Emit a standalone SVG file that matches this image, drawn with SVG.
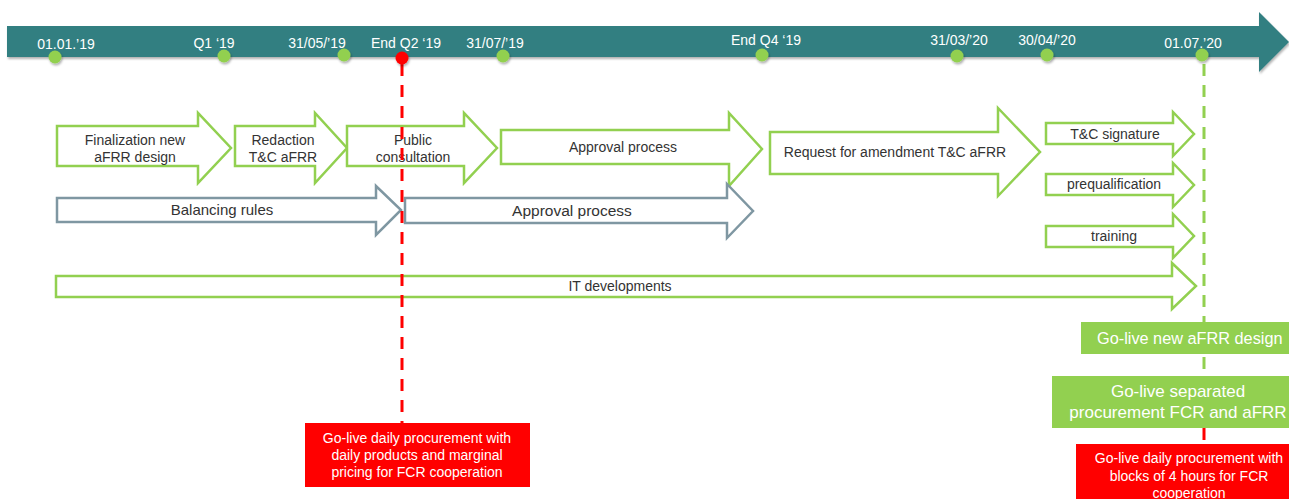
<svg xmlns="http://www.w3.org/2000/svg" width="1289" height="499" viewBox="0 0 1289 499">
<defs>
<style>
.lbl{font-family:"Liberation Sans",Arial,sans-serif;font-size:14px;fill:#ffffff;text-anchor:middle}
.at{font-family:"Liberation Sans",Arial,sans-serif;font-size:14px;fill:#333333;text-anchor:middle}
.gt{font-family:"Liberation Sans",Arial,sans-serif;font-size:15.5px;fill:#333333;text-anchor:middle}
.wt{font-family:"Liberation Sans",Arial,sans-serif;fill:#ffffff;text-anchor:middle}
.garr{fill:#ffffff;stroke:#92D050;stroke-width:2.5;stroke-linejoin:miter}
.sarr{fill:#ffffff;stroke:#7F97A2;stroke-width:2.5;stroke-linejoin:miter}
.dot{fill:#92D050}
.rdash{stroke:#FF0000;stroke-width:3;stroke-dasharray:12 9;fill:none}
.gdash{stroke:#92D050;stroke-width:3;stroke-dasharray:12 9;fill:none}
</style>
<filter id="sh" x="-5%" y="-20%" width="110%" height="150%">
<feDropShadow dx="1" dy="2" stdDeviation="1.2" flood-color="#000" flood-opacity="0.3"/>
</filter>
</defs>
<g id="timeline">
<path d="M7 26 H1259 V12 L1289 42 L1259 72 V57 H7 Z" fill="#317F81" filter="url(#sh)"/>
<text class="lbl" x="66" y="49">01.01.’19</text>
<text class="lbl" x="214" y="48">Q1 ‘19</text>
<text class="lbl" x="317" y="48">31/05/’19</text>
<text class="lbl" x="406" y="48">End Q2 ‘19</text>
<text class="lbl" x="495" y="48">31/07/’19</text>
<text class="lbl" x="766" y="45">End Q4 ‘19</text>
<text class="lbl" x="959" y="45">31/03/’20</text>
<text class="lbl" x="1047" y="45">30/04/’20</text>
<text class="lbl" x="1193" y="48">01.07.’20</text>
</g>
<g id="finalization">
<path class="garr" d="M57 126 H198 V113 L231 148 L198 183 V166 H57 Z"/>
<text class="at" x="135" y="145">Finalization  new</text>
<text class="at" x="135" y="162">aFRR design</text>
</g>
<g id="redaction">
<path class="garr" d="M235 126 H315 V113 L347 148 L315 183 V166 H235 Z"/>
<text class="at" x="283" y="145">Redaction</text>
<text class="at" x="283" y="162">T&amp;C aFRR</text>
</g>
<g id="public-consultation">
<path class="garr" d="M347 126 H464 V113 L497 148 L464 183 V166 H347 Z"/>
<text class="at" x="413" y="145">Public</text>
<text class="at" x="413" y="162">consultation</text>
</g>
<g id="approval-1">
<path class="garr" d="M501 130 H729 V113 L762 149 L729 186 V164 H501 Z"/>
<text class="at" x="623" y="152">Approval  process</text>
</g>
<g id="request-amendment">
<path class="garr" d="M770 132 H998 V108 L1040 152 L998 196 V174 H770 Z"/>
<text class="at" x="895" y="157">Request for amendment  T&amp;C aFRR</text>
</g>
<g id="tc-signature">
<path class="garr" d="M1046 123 H1173 V112 L1194 134 L1173 156 V144 H1046 Z"/>
<text class="at" x="1115" y="139">T&amp;C signature</text>
</g>
<g id="prequalification">
<path class="garr" d="M1046 174 H1173 V163 L1194 185 L1173 207 V195 H1046 Z"/>
<text class="at" x="1114" y="189">prequalification</text>
</g>
<g id="training">
<path class="garr" d="M1046 226 H1173 V214 L1194 236 L1173 258 V247 H1046 Z"/>
<text class="at" x="1114" y="241">training</text>
</g>
<g id="balancing-rules">
<path class="sarr" d="M57 198 H376 V186 L401 210 L376 235 V222 H57 Z"/>
<text class="gt" x="222" y="215" style="font-size:15px">Balancing  rules</text>
</g>
<g id="approval-2">
<path class="sarr" d="M405 198 H727 V184 L753 211 L727 238 V223 H405 Z"/>
<text class="gt" x="572" y="216">Approval  process</text>
</g>
<g id="it-developments">
<path class="garr" d="M56 276 H1172 V263 L1196 286 L1172 309 V297 H56 Z"/>
<text class="at" x="620" y="291">IT developments</text>
</g>
<g id="red-box-1">
<rect x="305" y="423" width="225" height="64" fill="#FF0000"/>
<text class="wt" x="417" y="443" font-size="14">Go-live daily procurement with</text>
<text class="wt" x="417" y="460" font-size="14">daily products and marginal</text>
<text class="wt" x="417" y="477" font-size="14">pricing for FCR cooperation</text>
</g>
<g id="golive-afrr">
<rect x="1081" y="322" width="210" height="32" fill="#92D050"/>
<text class="wt" x="1097" y="344" font-size="16.3" style="text-anchor:start">Go-live new aFRR design</text>
</g>
<g id="golive-separated">
<rect x="1052" y="376" width="239" height="52" fill="#92D050"/>
<text class="wt" x="1178" y="397" font-size="17">Go-live separated</text>
<text class="wt" x="1178" y="418" font-size="17">procurement  FCR and aFRR</text>
</g>
<g id="red-box-2">
<rect x="1076" y="444" width="215" height="57" fill="#FF0000"/>
<text class="wt" x="1189" y="463" font-size="14">Go-live daily procurement with</text>
<text class="wt" x="1189" y="481" font-size="14">blocks of 4 hours for FCR</text>
<text class="wt" x="1189" y="498" font-size="14">cooperation</text>
</g>
<g id="connectors">
<line class="rdash" x1="402" y1="64" x2="402" y2="423"/>
<line class="gdash" x1="1204" y1="64" x2="1204" y2="322"/>
<line class="gdash" x1="1204" y1="357" x2="1204" y2="376"/>
<line stroke="#FF0000" stroke-width="3" x1="1204" y1="428" x2="1204" y2="440"/>
</g>
<g id="milestones" filter="url(#sh)">
<circle class="dot" cx="55" cy="57" r="6.5"/>
<circle class="dot" cx="224" cy="56" r="6.5"/>
<circle class="dot" cx="344" cy="55" r="6.5"/>
<circle cx="402" cy="58" r="6.5" fill="#FF0000"/>
<circle class="dot" cx="503" cy="56" r="6.5"/>
<circle class="dot" cx="762" cy="55" r="6.5"/>
<circle class="dot" cx="957" cy="56" r="6.5"/>
<circle class="dot" cx="1047" cy="55" r="6.5"/>
<circle class="dot" cx="1202" cy="55" r="6.5"/>
</g>
</svg>
